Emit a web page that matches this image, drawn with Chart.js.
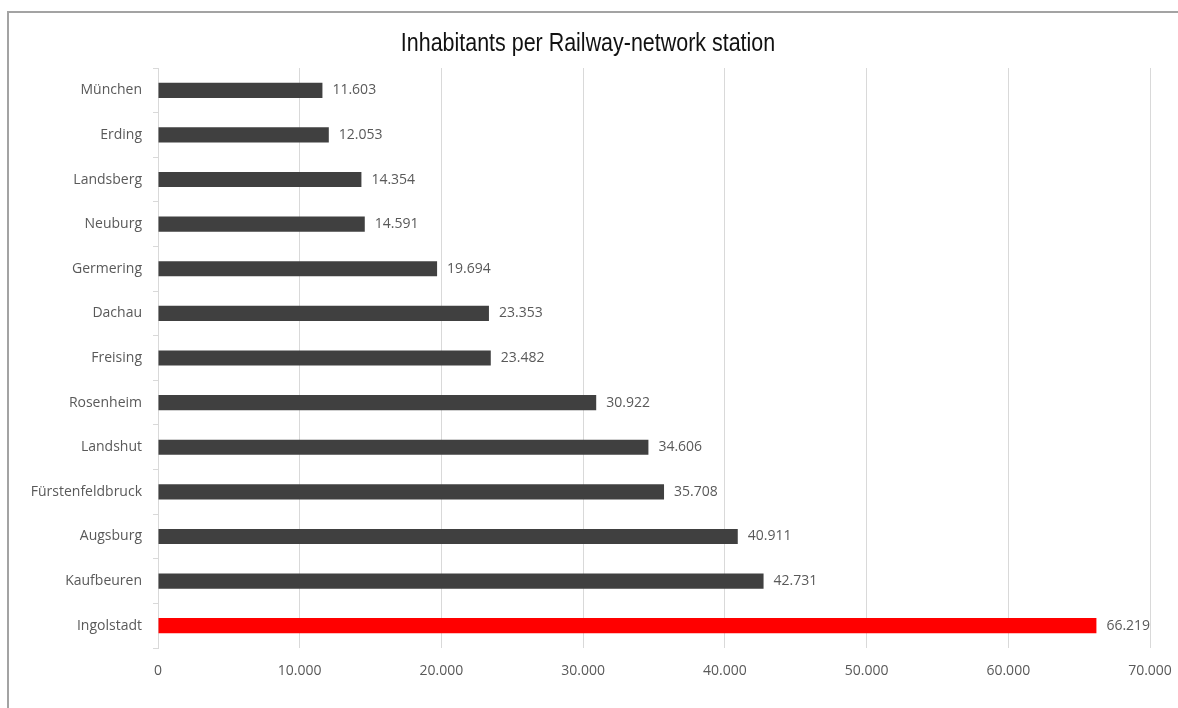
<!DOCTYPE html>
<html>
<head>
<meta charset="utf-8">
<script src="https://cdn.jsdelivr.net/npm/chart.js@4"></script>
<style>
  html, body { margin: 0; padding: 0; background: #fff; overflow: hidden; }
  #frame { position: absolute; left: 7px; top: 11px; width: 1400px; height: 900px;
           border-left: 2px solid #a3a3a3; border-top: 2px solid #a3a3a3; }
  #wrap { position: absolute; left: 0; top: 0; width: 1178px; height: 708px; }
</style>
</head>
<body>
<div id="frame"></div>
<div id="wrap"><canvas id="chart" width="1178" height="708"></canvas></div>
<script>
// Railway-network stations and their inhabitants per station
const stations = ['München', 'Erding', 'Landsberg', 'Neuburg', 'Germering', 'Dachau', 'Freising',
  'Rosenheim', 'Landshut', 'Fürstenfeldbruck', 'Augsburg', 'Kaufbeuren', 'Ingolstadt'];
const inhabitants = [11603, 12053, 14354, 14591, 19694, 23353, 23482,
  30922, 34606, 35708, 40911, 42731, 66219];
const axisTicks = [0, 10000, 20000, 30000, 40000, 50000, 60000, 70000];
const highlighted = 'Ingolstadt';
const chartTitle = 'Inhabitants per Railway-network station';

// German number style: 12.345
const fmt = v => String(Math.round(v)).replace(/\B(?=(\d{3})+(?!\d))/g, '.');

const textFamily = '"Open Sans", Lato, sans-serif';

// writes each bar's value just past its end
const valueLabels = {
  id: 'valueLabels',
  afterDatasetsDraw(chart) {
    const ctx = chart.ctx;
    const meta = chart.getDatasetMeta(0);
    ctx.save();
    ctx.font = '14px ' + textFamily;
    ctx.fillStyle = '#595959';
    ctx.textAlign = 'left';
    ctx.textBaseline = 'middle';
    meta.data.forEach((bar, i) => {
      ctx.fillText(fmt(chart.data.datasets[0].data[i]), bar.x + 10, bar.y);
    });
    ctx.restore();
  }
};

// condensed heading centred across the canvas
const heading = {
  id: 'heading',
  afterDraw(chart) {
    const ctx = chart.ctx;
    ctx.save();
    ctx.font = '26px "Liberation Sans", Arial, sans-serif';
    ctx.fillStyle = '#111';
    ctx.textAlign = 'center';
    ctx.textBaseline = 'alphabetic';
    ctx.translate(chart.width / 2 - 1, 51);
    ctx.scale(0.825, 1);
    ctx.fillText(chartTitle, 0, 0);
    ctx.restore();
  }
};

new Chart(document.getElementById('chart'), {
  type: 'bar',
  data: {
    labels: stations,
    datasets: [{
      data: inhabitants,
      backgroundColor: stations.map(s => s === highlighted ? '#ff0000' : '#404040'),
      barPercentage: 0.34,
      categoryPercentage: 1
    }]
  },
  options: {
    indexAxis: 'y',
    responsive: false,
    animation: false,
    layout: { padding: { top: 68, right: 28, bottom: 0, left: 0 } },
    plugins: {
      legend: { display: false },
      tooltip: { enabled: false },
      title: { display: false }
    },
    scales: {
      x: {
        min: 0, max: 70000,
        afterBuildTicks: s => { s.ticks = axisTicks.map(v => ({ value: v })); },
        afterFit: s => { s.height = 60; s.paddingLeft = 0; s.paddingRight = 0; },
        grid: { color: '#d9d9d9', lineWidth: 1, drawTicks: false },
        border: { display: false },
        ticks: {
          padding: 15,
          color: '#595959',
          font: { family: textFamily, size: 14 },
          callback: v => fmt(v)
        }
      },
      y: {
        afterFit: s => { s.width = 158; },
        grid: { drawOnChartArea: false, drawTicks: true, tickLength: 5, color: '#d9d9d9' },
        border: { display: true, color: '#d9d9d9', width: 1 },
        ticks: {
          padding: 11,
          color: '#595959',
          font: { family: textFamily, size: 14 }
        }
      }
    }
  },
  plugins: [valueLabels, heading]
});
</script>
</body>
</html>
